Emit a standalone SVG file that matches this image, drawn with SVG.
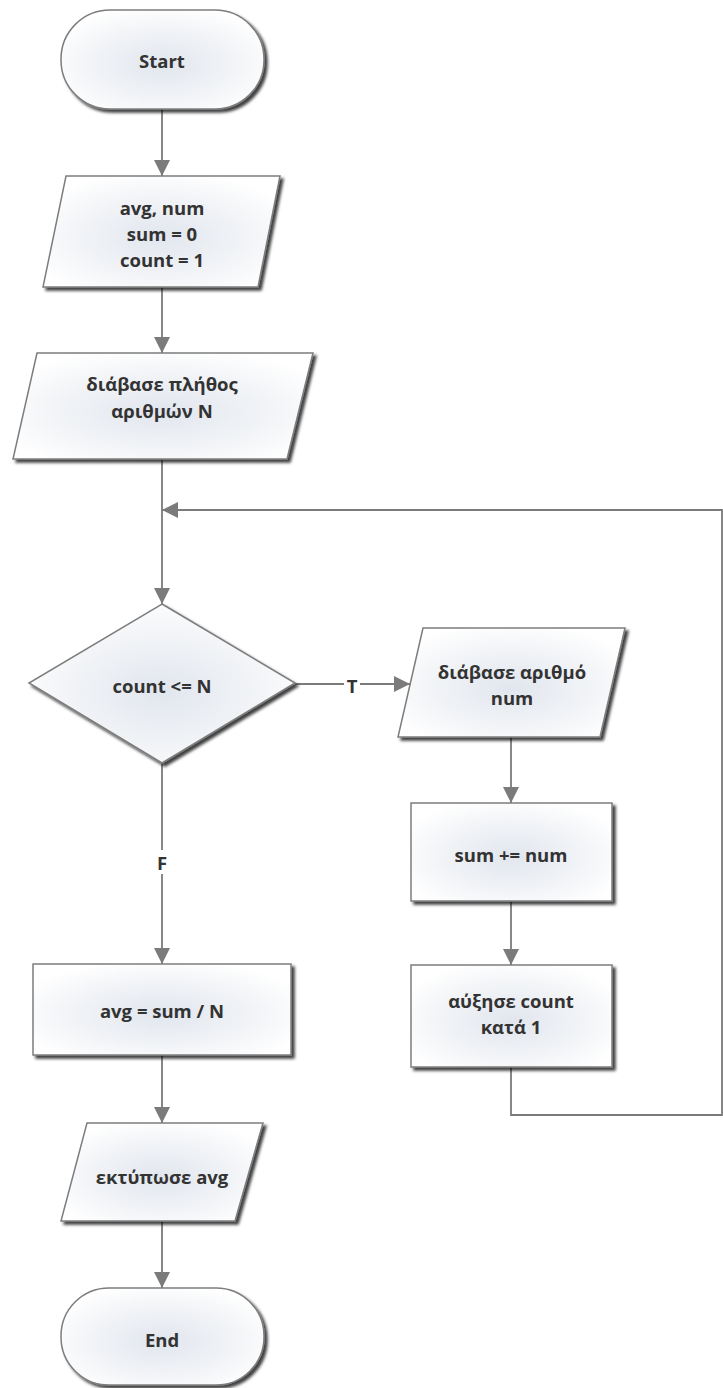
<svg xmlns="http://www.w3.org/2000/svg" width="723" height="1388" viewBox="0 0 723 1388">
  <defs>
    <radialGradient id="fillGrad" cx="0.5" cy="0.55" r="0.6">
      <stop offset="0" stop-color="#e1e6ee"/>
      <stop offset="0.6" stop-color="#f2f4f7"/>
      <stop offset="1" stop-color="#ffffff"/>
    </radialGradient>
    <filter id="shadow" x="-10%" y="-10%" width="125%" height="130%">
      <feDropShadow dx="3" dy="3" stdDeviation="1.4" flood-color="#000" flood-opacity="0.75"/>
    </filter>
    <marker id="arrow" viewBox="0 0 16 16" refX="16" refY="8" markerWidth="16" markerHeight="16" markerUnits="userSpaceOnUse" orient="auto">
      <path d="M0,0 L16,8 L0,16 z" fill="#7b7b7b"/>
    </marker>
  </defs>
  <style>
    .shape { fill: url(#fillGrad); stroke: #7d7d7d; stroke-width: 1.5; filter: url(#shadow); }
    .label { font-family: "Open Sans", "Noto Sans", "DejaVu Sans", sans-serif; font-weight: bold; font-size: 18.5px; fill: #333333; text-anchor: middle; dominant-baseline: central; }
    .wire { fill: none; stroke: #7b7b7b; stroke-width: 1.8; }
  </style>

  <rect width="723" height="1388" fill="#ffffff"/>

  <!-- connectors -->
  <g id="connectors">
    <path class="wire" d="M162,109 L162,176" marker-end="url(#arrow)"/>
    <path class="wire" d="M162,287 L162,353" marker-end="url(#arrow)"/>
    <path class="wire" d="M162,459 L162,604" marker-end="url(#arrow)"/>
    <path class="wire" d="M295,684 L344,684"/>
    <path class="wire" d="M360,684 L410,684" marker-end="url(#arrow)"/>
    <text class="label" x="352" y="685">T</text>
    <path class="wire" d="M511,737 L511,803" marker-end="url(#arrow)"/>
    <path class="wire" d="M511,901 L511,965" marker-end="url(#arrow)"/>
    <path class="wire" d="M511,1067 L511,1115 L722,1115 L722,510 L162,510" marker-end="url(#arrow)"/>
    <path class="wire" d="M162,763 L162,850"/>
    <path class="wire" d="M162,874 L162,964" marker-end="url(#arrow)"/>
    <text class="label" x="162" y="862">F</text>
    <path class="wire" d="M162,1055 L162,1123" marker-end="url(#arrow)"/>
    <path class="wire" d="M162,1221 L162,1288" marker-end="url(#arrow)"/>
  </g>

  <g id="start">
    <rect class="shape" x="61" y="10" width="203" height="99" rx="49" ry="49"/>
    <text class="label" x="162" y="60">Start</text>
  </g>

  <g id="init">
    <polygon class="shape" points="66,176 280,176 258,287 43,287"/>
    <text class="label" x="162" y="207">avg, num</text>
    <text class="label" x="162" y="233">sum = 0</text>
    <text class="label" x="162" y="259">count = 1</text>
  </g>

  <g id="read-n">
    <polygon class="shape" points="37,353 313,353 287,459 13,459"/>
    <text class="label" x="162" y="383">διάβασε πλήθος</text>
    <text class="label" x="162" y="410">αριθμών N</text>
  </g>

  <g id="decision">
    <polygon class="shape" points="162,604 295,683 162,763 29,683"/>
    <text class="label" x="162" y="685">count &lt;= N</text>
  </g>

  <g id="read-num">
    <polygon class="shape" points="423,628 625,628 600,737 398,737"/>
    <text class="label" x="512" y="671">διάβασε αριθμό</text>
    <text class="label" x="512" y="697">num</text>
  </g>

  <g id="add-sum">
    <rect class="shape" x="411" y="803" width="201" height="98"/>
    <text class="label" x="511" y="854">sum += num</text>
  </g>

  <g id="increment">
    <rect class="shape" x="411" y="965" width="201" height="102"/>
    <text class="label" x="511" y="1000">αύξησε count</text>
    <text class="label" x="511" y="1026">κατά 1</text>
  </g>

  <g id="average">
    <rect class="shape" x="33" y="964" width="258" height="91"/>
    <text class="label" x="162" y="1010">avg = sum / N</text>
  </g>

  <g id="print">
    <polygon class="shape" points="87,1123 263,1123 235,1221 61,1221"/>
    <text class="label" x="162" y="1176">εκτύπωσε avg</text>
  </g>

  <g id="end">
    <rect class="shape" x="61" y="1288" width="203" height="97" rx="48" ry="48"/>
    <text class="label" x="162" y="1339">End</text>
  </g>
</svg>
